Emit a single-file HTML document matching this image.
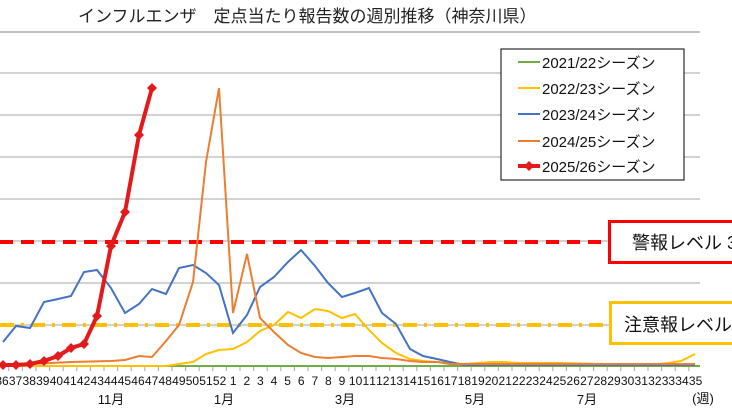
<!DOCTYPE html>
<html><head><meta charset="utf-8"><style>
body{margin:0;background:#fff;}
svg{display:block;font-family:"Liberation Sans","Noto Sans CJK JP",sans-serif;}
</style></head><body>
<svg width="732" height="412" viewBox="0 0 732 412" xmlns="http://www.w3.org/2000/svg">
<text x="78" y="22" font-size="17" fill="#222">インフルエンザ　定点当たり報告数の週別推移（神奈川県）</text>
<g stroke="#a6a6a6" stroke-width="1">
<line x1="0" y1="32" x2="700" y2="32" stroke-width="2" stroke="#c0c0c0"/>
<line x1="0" y1="73" x2="700" y2="73"/>
<line x1="0" y1="115" x2="700" y2="115"/>
<line x1="0" y1="157" x2="700" y2="157"/>
<line x1="0" y1="199" x2="700" y2="199"/>
<line x1="0" y1="241" x2="700" y2="241"/>
<line x1="0" y1="283" x2="700" y2="283"/>
<line x1="0" y1="325" x2="700" y2="325"/>
<line x1="0" y1="366" x2="700" y2="366"/>
</g>
<g id="ticks" stroke="#a6a6a6" stroke-width="1"></g>
<line x1="0" y1="366" x2="700" y2="366" stroke="#70ad47" stroke-width="2"/>
<line x1="0" y1="242" x2="608" y2="242" stroke="#ff0000" stroke-width="4" stroke-dasharray="13,8"/>
<line x1="0" y1="325" x2="609" y2="325" stroke="#ffc000" stroke-width="4" stroke-dasharray="14,7,3,7"/>
<polyline fill="none" stroke="#ffc000" stroke-width="2" points="3,366 166,366 179,364 193,362 206,354 219,350 233,349 247,342 260,331 274,325 288,312 301,318 315,309 328,311 342,318 355,314 369,330 382,343 396,353 410,359 423,361 437,362 450,363 464,364 478,363 491,362 505,362 520,363 560,363 600,364 660,364 668,363 681,361 695,354"/>
<polyline fill="none" stroke="#4472c4" stroke-width="2" points="3,342 16,326 30,328 44,302 58,299 71,296 84,272 97,270 111,288 125,313 139,304 152,289 166,294 179,268 193,265 206,273 219,285 233,333 247,315 260,287 274,277 288,262 301,250 315,266 328,283 342,297 355,293 369,288 382,313 396,324 410,349 423,356 437,359 450,362 464,365 695,365"/>
<polyline fill="none" stroke="#ed7d31" stroke-width="2" points="3,365 30,364 71,362 111,361 125,360 139,356 152,357 166,341 179,325 193,282 206,162 219,88 233,313 247,254 260,318 274,332 288,345 301,353 315,357 328,358 342,357 355,356 369,356 382,358 396,359 410,361 423,362 437,362 450,364 464,364 695,364"/>
<polyline fill="none" stroke="#e31a1c" stroke-width="4" points="3,365 16,365 30,364 44,361 58,356 71,348 84,344 97,316 111,246 125,212 139,135 152,88"/>
<g fill="#e31a1c" id="mk"></g>
<rect x="501" y="49" width="183" height="131" fill="#fff" stroke="#000" stroke-width="1"/>
<g font-size="15" fill="#111">
<line x1="518" y1="62" x2="540" y2="62" stroke="#70ad47" stroke-width="2"/><text x="542" y="68">2021/22シーズン</text>
<line x1="518" y1="88" x2="540" y2="88" stroke="#ffc000" stroke-width="2"/><text x="542" y="94">2022/23シーズン</text>
<line x1="518" y1="114" x2="540" y2="114" stroke="#4472c4" stroke-width="2"/><text x="542" y="120">2023/24シーズン</text>
<line x1="518" y1="141" x2="540" y2="141" stroke="#ed7d31" stroke-width="2"/><text x="542" y="147">2024/25シーズン</text>
<line x1="518" y1="166" x2="540" y2="166" stroke="#e31a1c" stroke-width="4"/><path d="M529,161 L534,166 L529,171 L524,166Z" fill="#e31a1c"/><text x="542" y="172">2025/26シーズン</text>
</g>
<rect x="609.5" y="221.5" width="130" height="41" fill="#fff" stroke="#ff0000" stroke-width="3"/>
<text x="632" y="249" font-size="18" fill="#111">警報レベル 30</text>
<rect x="610.5" y="302.5" width="130" height="41" fill="#fff" stroke="#ffc000" stroke-width="3"/>
<text x="624" y="331" font-size="18" fill="#111">注意報レベル 10</text>
<g font-size="12" fill="#111" text-anchor="middle" id="lbl"></g>
<g font-size="13" fill="#111" text-anchor="middle">
<text x="111" y="404">11月</text><text x="224" y="404">1月</text><text x="345" y="404">3月</text><text x="475" y="404">5月</text><text x="587" y="404">7月</text><text x="703" y="403">(週)</text>
</g>
<script>
var ns="http://www.w3.org/2000/svg";
var t=document.getElementById("ticks"),l=document.getElementById("lbl"),m=document.getElementById("mk");
for(var i=0;i<52;i++){var x=2+13.6*i;
var ln=document.createElementNS(ns,"line");ln.setAttribute("x1",x-6.8);ln.setAttribute("x2",x-6.8);ln.setAttribute("y1",366);ln.setAttribute("y2",371);t.appendChild(ln);
var w=i<17?36+i:i-16;var tx=document.createElementNS(ns,"text");tx.setAttribute("x",x);tx.setAttribute("y",385);tx.textContent=w;if(w>9)tx.setAttribute("textLength","13.4");l.appendChild(tx);}
var pts=[[3,365],[16,365],[30,364],[44,361],[58,356],[71,348],[84,344],[97,316],[111,246],[125,212],[139,135],[152,88]];
pts.forEach(function(p){var d=document.createElementNS(ns,"path");d.setAttribute("d","M"+p[0]+","+(p[1]-5)+" l5,5 l-5,5 l-5,-5z");m.appendChild(d);});
</script>
</svg>
</body></html>
